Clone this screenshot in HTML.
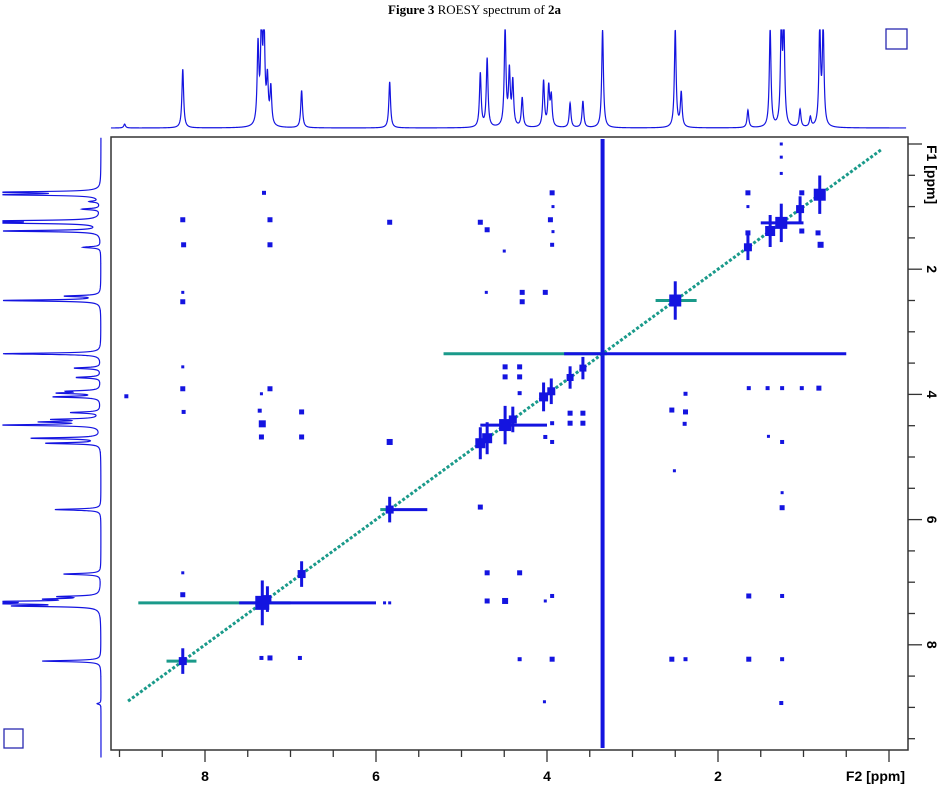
<!DOCTYPE html>
<html><head><meta charset="utf-8">
<style>
html,body{margin:0;padding:0;background:#fff;}
body{width:949px;height:792px;overflow:hidden;position:relative;}
#title{position:absolute;left:0;width:949px;top:2px;text-align:center;font-family:"Liberation Serif",serif;font-size:13px;color:#000;}
svg{position:absolute;left:0;top:0;}
.lab{font-family:"Liberation Sans",sans-serif;font-weight:bold;font-size:14px;fill:#000;}
</style></head>
<body>
<div id="title"><b>Figure 3</b> ROESY spectrum of <b>2a</b></div>
<svg id="chart" width="949" height="792"></svg>
<script>
// 1D proton peaks (ppm, relative height)
const peakPpm = [8.94,8.26,7.38,7.34,7.31,7.27,7.23,6.87,5.84,4.78,4.70,4.49,4.44,4.40,4.29,4.04,3.98,3.95,3.73,3.58,3.35,2.50,2.43,1.65,1.39,1.26,1.23,1.04,0.92,0.81,0.77];
const peakHeight = [0.04,0.6,0.8,1.0,1.0,0.45,0.38,0.38,0.47,0.55,0.7,1.0,0.55,0.45,0.3,0.47,0.4,0.3,0.25,0.27,1.0,1.0,0.35,0.18,1.0,1.0,1.0,0.18,0.1,1.0,1.0];
// 2D cross peaks (F2 ppm, F1 ppm, size px)
const crossF2 = [7.31,8.26,7.24,5.84,4.78,4.70,8.25,7.24,4.50,8.26,8.26,4.71,8.26,8.26,8.92,7.34,7.24,8.25,7.36,7.33,6.87,7.34,6.87,5.84,1.26,1.26,1.26,3.94,3.93,3.96,3.93,3.94,1.65,1.65,1.65,1.02,0.83,0.80,1.02,4.29,4.29,4.02,1.64,1.42,1.25,1.02,0.82,2.38,2.54,2.38,2.39,1.41,1.25,3.73,3.58,3.73,3.58,3.94,4.02,3.94,4.32,4.49,4.32,4.49,4.32,2.51,1.25,1.25,4.32,4.49,4.02,3.94,1.64,1.25,4.32,3.94,2.54,2.38,1.64,1.25,4.03,1.26,4.78,4.70,4.70,4.49,8.26,8.26,5.90,5.84,7.34,7.24,6.89];
const crossF1 = [0.78,1.21,1.21,1.25,1.25,1.37,1.61,1.61,1.71,2.37,2.52,2.37,3.56,3.91,4.03,3.99,3.91,4.28,4.26,4.47,4.28,4.68,4.68,4.76,0.0,0.21,0.47,0.78,1.0,1.21,1.4,1.61,0.78,1.0,1.42,1.39,1.42,1.61,0.78,2.37,2.52,2.37,3.90,3.90,3.90,3.90,3.90,3.99,4.25,4.28,4.47,4.67,4.76,4.30,4.30,4.46,4.46,4.46,4.68,4.76,3.56,3.56,3.72,3.72,3.98,5.22,5.57,5.81,6.85,7.30,7.30,7.22,7.22,7.22,8.23,8.23,8.23,8.23,8.23,8.23,8.91,8.93,5.80,6.85,7.30,7.30,6.85,7.20,7.33,7.33,8.21,8.21,8.21];
const crossSize = [4,5,5,5,5,5,5,5,3,3,5,3,3,5,4,3,5,4,4,7,5,5,5,6,3,3,3,5,3,5,3,4,5,3,5,5,5,6,5,5,5,5,4,4,4,4,5,4,5,5,4,3,4,5,5,5,5,4,4,4,5,5,5,5,4,3,3,5,5,6,3,4,5,4,4,5,5,4,5,4,3,4,5,5,5,5,3,5,3,3,4,5,4];
// diagonal peaks (ppm, size px)
const diagPpm = [8.26,7.33,7.27,6.87,5.84,4.78,4.70,4.49,4.40,4.04,3.95,3.73,3.58,2.50,1.65,1.39,1.26,1.04,0.81];
const diagSize = [8,14,8,8,8,10,10,12,8,9,8,7,7,12,8,10,12,8,12];
// horizontal ridges at F1 (ppm): from, to F2 ppm, colour index 0 teal 1 blue
const ridgeF1 = [7.33,7.33,3.35,3.35,5.84,5.84,2.50,8.26,4.49,1.26];
const ridgeFrom = [8.78,7.6,5.21,3.8,5.95,5.84,2.73,8.45,4.78,1.5];
const ridgeTo = [7.0,6.0,3.3,0.5,5.84,5.40,2.25,8.1,4.0,1.0];
const ridgeCol = [0,1,0,1,0,1,0,0,1,1];
// axis ticks
const xTicks = [0,0.5,1,1.5,2,2.5,3,3.5,4,4.5,5,5.5,6,6.5,7,7.5,8,8.5,9];
const xLabels = [8,6,4,2];
const yTicks = [0,0.5,1,1.5,2,2.5,3,3.5,4,4.5,5,5.5,6,6.5,7,7.5,8,8.5,9,9.5];
const yLabels = [2,4,6,8];

const L=111,R=908,T=137,B=750;
const X = p => 889 - 85.5*p;
const Y = p => 144 + 62.6*p;
const NS='http://www.w3.org/2000/svg';
const svg=document.getElementById('chart');
function mk(tag,attrs){const e=document.createElementNS(NS,tag);for(const k in attrs)e.setAttribute(k,attrs[k]);svg.appendChild(e);return e;}
const BLUE='#1414e0', TEAL='#1a9a8a';

function spec(p){let v=0;for(let i=0;i<peakPpm.length;i++){const d=(p-peakPpm[i])/0.012;v+=peakHeight[i]/(1+d*d);}return Math.min(v,1);}
// top projection
let d='';
for(let p=9.1;p>=-0.2;p-=0.002){const x=X(p),y=128-98*spec(p);d+=(d?'L':'M')+x.toFixed(2)+' '+y.toFixed(2);}
let e=mk('path',{d:d,fill:'none',stroke:BLUE,'stroke-width':1.2});


// left projection
d='';
for(let p=-0.1;p<=9.8;p+=0.002){const y=Y(p),x=101-98*spec(p);d+=(d?'L':'M')+x.toFixed(2)+' '+y.toFixed(2);}
e=mk('path',{d:d,fill:'none',stroke:BLUE,'stroke-width':1.2});



// frame
e=mk('rect',{x:L,y:T,width:R-L,height:B-T,fill:'none',stroke:'#333','stroke-width':1.5});



// boxes
e=mk('rect',{x:886,y:29,width:21,height:20,fill:'none',stroke:'#2a2ab0','stroke-width':1.3});


e=mk('rect',{x:4,y:729,width:19,height:19,fill:'none',stroke:'#2a2ab0','stroke-width':1.3});



// diagonal (teal dashed)
e=mk('line',{x1:X(8.9),y1:Y(8.9),x2:X(0.08),y2:Y(0.08),stroke:TEAL,'stroke-width':3,'stroke-dasharray':'3 2'});



// solvent vertical ridge
e=mk('line',{x1:X(3.35),y1:T+2,x2:X(3.35),y2:B-2,stroke:BLUE,'stroke-width':4});



// horizontal ridges
for(let i=0;i<ridgeF1.length;i++){
  e=mk('line',{x1:X(ridgeFrom[i]),y1:Y(ridgeF1[i]),x2:X(ridgeTo[i]),y2:Y(ridgeF1[i]),stroke:ridgeCol[i]?BLUE:TEAL,'stroke-width':3});
  
  
}
// vertical ridges on diagonal peaks
for(let i=0;i<diagPpm.length;i++){
  const s=diagSize[i];
  e=mk('line',{x1:X(diagPpm[i]),y1:Y(diagPpm[i])-s*1.6,x2:X(diagPpm[i]),y2:Y(diagPpm[i])+s*1.6,stroke:BLUE,'stroke-width':3});
  
  
  e=mk('rect',{x:X(diagPpm[i])-s/2,y:Y(diagPpm[i])-s/2,width:s,height:s,fill:BLUE});
  
  
}
// cross peaks
for(let i=0;i<crossF2.length;i++){
  const s=crossSize[i];
  e=mk('rect',{x:X(crossF2[i])-s/2,y:Y(crossF1[i])-s/2,width:s,height:s,fill:BLUE});
  
  
}

// x axis ticks
for(const t of xTicks){
  const major=(t%2===0);
  e=mk('line',{x1:X(t),y1:B,x2:X(t),y2:B+(major?12:7),stroke:'#333','stroke-width':1.3});
  
  
}
for(const t of xLabels){
  e=mk('text',{x:X(t),y:781,'text-anchor':'middle',class:'lab'});e.textContent=t;
  
  
}
e=mk('text',{x:905,y:781,'text-anchor':'end',class:'lab'});e.textContent='F2 [ppm]';


// y axis ticks
for(const t of yTicks){
  const major=(t%2===0);
  e=mk('line',{x1:R,y1:Y(t),x2:R+(major?14:7),y2:Y(t),stroke:'#333','stroke-width':1.3});
  
  
}
for(const t of yLabels){
  e=mk('text',{x:0,y:0,'text-anchor':'middle',class:'lab',transform:'translate(927,'+Y(t)+') rotate(90)'});e.textContent=t;
  
  
}
e=mk('text',{x:0,y:0,'text-anchor':'start',class:'lab',transform:'translate(927,145) rotate(90)'});e.textContent='F1 [ppm]';


</script>
</body></html>
